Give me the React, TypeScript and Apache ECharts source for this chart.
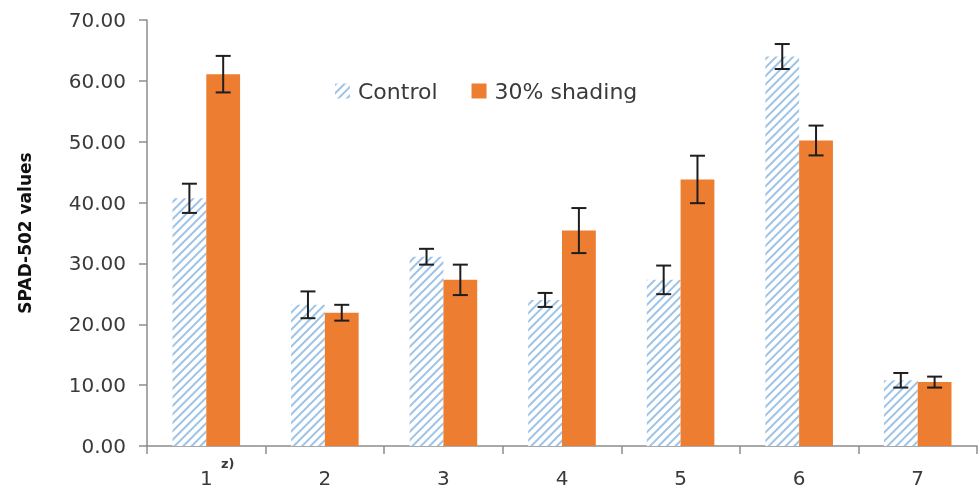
import React, { useEffect, useRef } from "react";
import * as echarts from "echarts";

const categories = ["1", "2", "3", "4", "5", "6", "7"];
const controlMeans = [40.7, 23.2, 31.1, 24.0, 27.3, 64.0, 10.8];
const controlErrors = [2.4, 2.2, 1.3, 1.15, 2.35, 2.05, 1.2];
const shadingMeans = [61.1, 21.9, 27.3, 35.4, 43.8, 50.2, 10.5];
const shadingErrors = [3.0, 1.3, 2.5, 3.7, 3.9, 2.45, 0.9];
const seriesNames = ["Control", "30% shading"];
const yTicks = { min: 0, max: 70, interval: 10 };

const CAT_GAP = 0.43;
const FONT = "'DejaVu Sans', sans-serif";

export default function App() {
  const ref = useRef<HTMLDivElement>(null);
  useEffect(() => {
    if (!ref.current) return;
    const chart = echarts.init(ref.current, undefined, { renderer: "svg" });
    const errData = (means: number[], errs: number[], side: number) =>
      means.map((m, i) => [i, m - errs[i], m + errs[i], side]);
    const renderErr = (params: any, api: any) => {
      const idx = api.value(0);
      const lo = api.value(1);
      const hi = api.value(2);
      const side = api.value(3);
      const pLo = api.coord([idx, lo]);
      const pHi = api.coord([idx, hi]);
      const catW = api.size([1, 0])[0];
      const barW = (catW * (1 - CAT_GAP)) / 2;
      const x = pLo[0] + (side * barW) / 2;
      const half = 7.5;
      const style = { stroke: "#1e1e1e", lineWidth: 2 };
      return {
        type: "group",
        children: [
          { type: "line", shape: { x1: x, y1: pHi[1], x2: x, y2: pLo[1] }, style },
          { type: "line", shape: { x1: x - half, y1: pHi[1], x2: x + half, y2: pHi[1] }, style },
          { type: "line", shape: { x1: x - half, y1: pLo[1], x2: x + half, y2: pLo[1] }, style },
        ],
      };
    };
    chart.setOption({
      animation: false,
      textStyle: { fontFamily: FONT },
      grid: { left: 147, right: 3, top: 20, bottom: 53 },
      legend: {
        left: 330,
        top: 75,
        itemWidth: 15,
        itemHeight: 15,
        itemGap: 34,
        icon: "rect",
        data: seriesNames,
        textStyle: { fontFamily: FONT, fontSize: 22, color: "#3a3a3a", padding: [0, 0, 0, 3] },
      },
      xAxis: {
        type: "category",
        data: categories,
        axisLine: { lineStyle: { color: "#8c8c8c", width: 1.5 } },
        axisTick: { show: true, length: 8, lineStyle: { color: "#8c8c8c", width: 1.5 } },
        axisLabel: { fontFamily: FONT, fontSize: 20, color: "#3a3a3a", margin: 22 },
      },
      yAxis: {
        type: "value",
        min: yTicks.min,
        max: yTicks.max,
        interval: yTicks.interval,
        name: "SPAD-502 values",
        nameLocation: "middle",
        nameGap: 114,
        nameTextStyle: { fontFamily: FONT, fontSize: 17, fontWeight: "bold", color: "#111" },
        splitLine: { show: false },
        axisLine: { show: true, lineStyle: { color: "#8c8c8c", width: 1.5 } },
        axisTick: { show: true, length: 8, lineStyle: { color: "#8c8c8c", width: 1.5 } },
        axisLabel: {
          fontFamily: FONT,
          fontSize: 20,
          color: "#3a3a3a",
          margin: 21,
          formatter: (v: number) => v.toFixed(2),
        },
      },
      series: [
        {
          name: seriesNames[0],
          type: "bar",
          data: controlMeans,
          barGap: "0%",
          barCategoryGap: CAT_GAP * 100 + "%",
          itemStyle: {
            color: "#ffffff",
            decal: {
              symbol: "rect",
              symbolSize: 1,
              dashArrayX: [1, 0],
              dashArrayY: [1.6, 3.4],
              rotation: -Math.PI / 4,
              color: "#9dc3e6",
            },
          },
        },
        {
          name: seriesNames[1],
          type: "bar",
          data: shadingMeans,
          barGap: "0%",
          barCategoryGap: CAT_GAP * 100 + "%",
          itemStyle: { color: "#ed7d31" },
        },
        {
          type: "custom",
          renderItem: renderErr,
          data: errData(controlMeans, controlErrors, -1),
          encode: { x: 0, y: [1, 2] },
          z: 10,
        },
        {
          type: "custom",
          renderItem: renderErr,
          data: errData(shadingMeans, shadingErrors, 1),
          encode: { x: 0, y: [1, 2] },
          z: 10,
        },
      ],
      graphic: [
        {
          type: "text",
          left: 221,
          top: 457,
          style: { text: "z)", fontFamily: FONT, fontSize: 13, fontWeight: "bold", fill: "#3a3a3a" },
        },
      ],
    });
    return () => chart.dispose();
  }, []);
  return <div ref={ref} style={{ position: "fixed", left: 0, top: 0, width: 980, height: 499 }} />;
}
